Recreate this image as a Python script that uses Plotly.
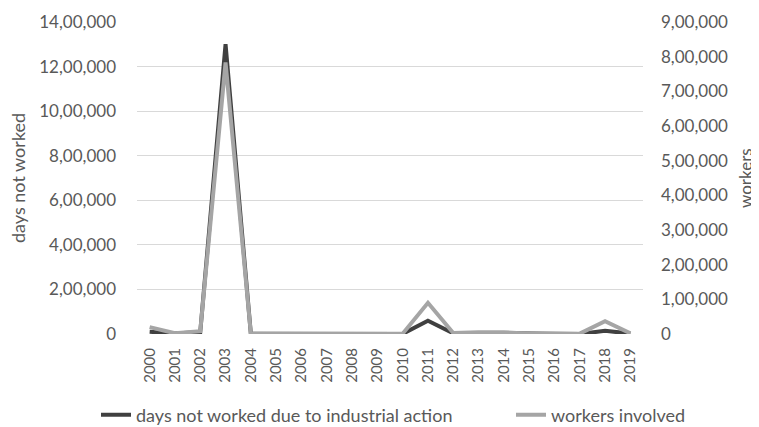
import plotly.graph_objects as go

years = [str(y) for y in range(2000, 2020)]

# days not worked due to industrial action (left axis)
days_not_worked = [10000, 2000, 9000, 1300000, 1000, 500, 500, 500, 500, 500,
                   500, 60000, 3000, 4000, 4000, 1000, 500, 500, 14000, 2000]

# workers involved (right axis)
workers_involved = [20000, 2000, 8000, 783000, 1000, 1000, 1000, 1000, 1000, 1000,
                    1000, 90000, 3000, 5000, 5000, 1000, 1000, 1000, 37000, 2000]

left_ticks = [0, 200000, 400000, 600000, 800000, 1000000, 1200000, 1400000]
left_labels = ["0", "2,00,000", "4,00,000", "6,00,000", "8,00,000",
               "10,00,000", "12,00,000", "14,00,000"]
right_ticks = [0, 100000, 200000, 300000, 400000, 500000, 600000, 700000, 800000, 900000]
right_labels = ["0", "1,00,000", "2,00,000", "3,00,000", "4,00,000",
                "5,00,000", "6,00,000", "7,00,000", "8,00,000", "9,00,000"]

FONT = "Lato, sans-serif"
GREY = "#595959"
PLOT_W = 506
# the page body adds an 8px offset, so the figure is drawn 8px smaller
OFF = 8

fig = go.Figure()
fig.add_trace(go.Scatter(
    x=years, y=days_not_worked, mode="lines",
    name="days not worked due to industrial action",
    line=dict(color="#404040", width=4), legend="legend",
))
fig.add_trace(go.Scatter(
    x=years, y=workers_involved, mode="lines", yaxis="y2",
    name="workers involved",
    line=dict(color="#a5a5a5", width=4), legend="legend2",
))

leg = dict(orientation="h", xanchor="left", y=-0.26, yanchor="middle",
           font=dict(size=18, color=GREY), bgcolor="rgba(0,0,0,0)")

fig.update_layout(
    width=759 - OFF, height=427 - OFF,
    margin=dict(l=137 - OFF, r=116, t=22 - OFF, b=93, autoexpand=False),
    paper_bgcolor="white", plot_bgcolor="white",
    font=dict(family=FONT, size=17, color=GREY),
    showlegend=True,
    legend=dict(leg, x=-41 / PLOT_W),
    legend2=dict(leg, x=(511 - 137) / PLOT_W),
    xaxis=dict(type="category", range=[-0.5, 19.5], tickangle=-90, showgrid=False,
               zeroline=False, showline=False, ticks="", tickfont=dict(size=15),
               ticklabelstandoff=10, automargin=False),
    yaxis=dict(range=[0, 1400000], tickvals=left_ticks, ticktext=left_labels,
               showgrid=True, gridcolor="#d9d9d9", gridwidth=1, zeroline=False,
               showline=False, ticks="", ticklabelstandoff=20, automargin=False),
    yaxis2=dict(range=[0, 900000], tickvals=right_ticks, ticktext=right_labels,
                overlaying="y", side="right", showgrid=False, zeroline=False,
                showline=False, ticks="", ticklabelstandoff=17, automargin=False),
)

fig.add_annotation(text="days not worked", xref="paper", yref="paper",
                   x=(18 - 137) / PLOT_W, y=0.5, xanchor="center", yanchor="middle",
                   textangle=-90, showarrow=False, font=dict(size=18, color=GREY))
fig.add_annotation(text="workers", xref="paper", yref="paper",
                   x=(745 - 137) / PLOT_W, y=0.5, xanchor="center", yanchor="middle",
                   textangle=-90, showarrow=False, font=dict(size=17, color=GREY))

fig.write_html("out.html")
